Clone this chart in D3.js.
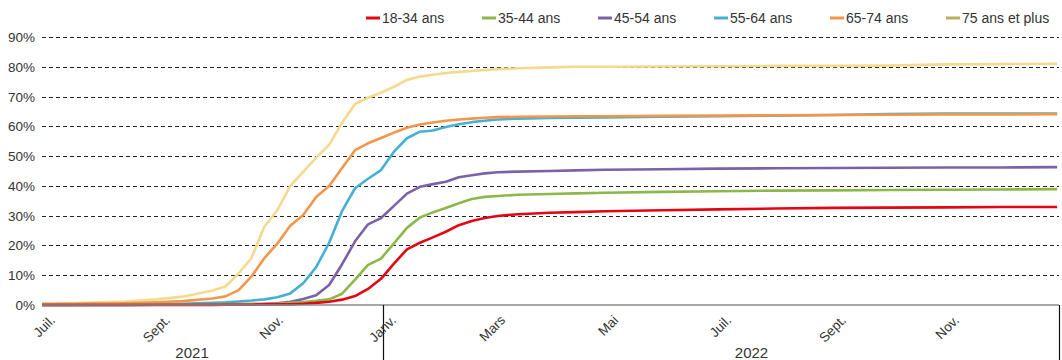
<!DOCTYPE html>
<html>
<head>
<meta charset="utf-8">
<script src="https://cdn.jsdelivr.net/npm/d3@7"></script>
<style>
  html, body { margin: 0; padding: 0; background: #fff; }
  svg { display: block; }
  .narrow { font-family: "Liberation Sans Narrow", "Arial Narrow", "Liberation Sans", Arial, sans-serif; }
  .reg { font-family: "Liberation Sans", Arial, sans-serif; }
</style>
</head>
<body>
<svg id="chart" width="1062" height="360"></svg>
<script>
// ---- Data ----
const dates = [
  "2021-07-01","2021-07-15","2021-08-01","2021-08-15","2021-09-01","2021-09-15",
  "2021-10-01","2021-10-08","2021-10-15","2021-10-22","2021-10-29",
  "2021-11-05","2021-11-12","2021-11-19","2021-11-26",
  "2021-12-03","2021-12-10","2021-12-17","2021-12-24","2021-12-31",
  "2022-01-07","2022-01-14","2022-01-21","2022-01-28",
  "2022-02-04","2022-02-11","2022-02-18","2022-02-25",
  "2022-03-04","2022-03-15","2022-04-01","2022-04-15","2022-05-01",
  "2022-06-01","2022-07-01","2022-08-01","2022-09-01","2022-10-01",
  "2022-11-01","2022-12-01","2022-12-31"
];
const categories = ["18-34 ans","35-44 ans","45-54 ans","55-64 ans","65-74 ans","75 ans et plus"];
const s18_34 = [0,0,0,0,0,0, 0.0,0.1,0.1,0.1,0.2, 0.2,0.2,0.4,0.7, 1.1,1.8,3.0,5.4,8.8,
  13.9,18.7,20.9,22.7, 24.6,26.8,28.2,29.2, 29.9,30.5,31.0,31.2,31.5, 31.8,32.1,32.4,32.6,32.7, 32.8,32.9,32.9];
const s35_44 = [0,0,0,0,0.1,0.1, 0.1,0.2,0.2,0.3,0.3, 0.4,0.7,1.0,1.4, 1.9,3.8,8.5,13.5,15.6,
  20.7,25.9,29.4,31.1, 32.6,34.2,35.6,36.3, 36.6,37.0,37.3,37.5,37.7, 38.0,38.2,38.4,38.5,38.6, 38.7,38.8,38.9];
const s45_54 = [0,0,0,0,0.1,0.1, 0.2,0.2,0.3,0.3,0.4, 0.6,1.1,2.0,3.3, 6.7,13.7,21.4,27.1,29.2,
  33.3,37.4,39.7,40.6, 41.4,42.9,43.6,44.2, 44.6,44.8,45.0,45.2,45.4, 45.6,45.8,45.9,46.0,46.1, 46.2,46.2,46.3];
const s55_64 = [0,0,0.1,0.1,0.2,0.4, 0.7,0.9,1.2,1.5,1.9, 2.6,3.9,7.3,12.7, 20.9,31.6,39.2,42.4,45.3,
  51.5,56.0,58.2,58.6, 59.8,60.7,61.4,61.9, 62.3,62.6,62.8,62.9,63.0, 63.2,63.4,63.6,63.8,64.1, 64.3,64.3,64.3];
const s65_74 = [0.3,0.4,0.5,0.6,0.9,1.3, 2.2,2.9,4.9,9.5,15.7, 20.6,26.6,30.2,36.3, 40.0,46.0,52.0,54.3,56.1,
  57.9,59.5,60.6,61.3, 61.9,62.3,62.6,62.9, 63.1,63.2,63.3,63.4,63.4, 63.5,63.6,63.7,63.8,63.9, 64.0,64.0,64.1];
const s75plus = [0.5,0.6,0.9,1.2,1.9,2.8, 4.9,6.2,10.5,15.7,26.3, 31.8,40.0,44.7,49.5, 53.8,61.2,67.5,69.6,71.3,
  73.3,75.6,76.7,77.3, 77.9,78.3,78.6,78.9, 79.2,79.5,79.8,80.0,80.0, 80.1,80.2,80.3,80.3,80.4, 80.8,80.9,81.0];
const seriesValues = [s18_34, s35_44, s45_54, s55_64, s65_74, s75plus];
const lineColors   = ["#e30613","#8cb84a","#7b62a8","#45b1d2","#f4964a","#f3da8e"];
const legendColors = ["#e30613","#8cb84a","#7b62a8","#45b1d2","#f4964a","#b9ae5e"];
const drawOrder = [5, 3, 4, 2, 1, 0];
const yTicks = [0,10,20,30,40,50,60,70,80,90];
const monthTickDates = ["2021-07-01","2021-09-01","2021-11-01","2022-01-01","2022-03-01","2022-05-01","2022-07-01","2022-09-01","2022-11-01"];
const monthLabels = ["Juil.","Sept.","Nov.","Janv.","Mars","Mai","Juil.","Sept.","Nov."];
const yearLabels = ["2021","2022"];
const yearLabelDates = ["2021-09-20","2022-07-19"];
const yearBoundaries = ["2022-01-01","2023-01-01"];
const domainDates = ["2021-07-01","2023-01-01"];

// ---- Chart ----
const parse = d3.timeParse("%Y-%m-%d");
const svg = d3.select("#chart");
const x = d3.scaleTime().domain(domainDates.map(parse)).range([42, 1059]);
const y = d3.scaleLinear().domain([0, 90]).range([305, 37]);

// gridlines
svg.append("g").selectAll("line").data(yTicks.filter(d => d > 0)).join("line")
  .attr("x1", 42).attr("x2", 1059)
  .attr("y1", d => Math.round(y(d)) + 0.5).attr("y2", d => Math.round(y(d)) + 0.5)
  .attr("stroke", "#222").attr("stroke-width", 1).attr("stroke-dasharray", "4,3");

// y labels
svg.append("g").selectAll("text").data(yTicks).join("text")
  .attr("class", "reg")
  .attr("x", 35).attr("y", d => y(d) + 5)
  .attr("text-anchor", "end").attr("font-size", 13.5).attr("fill", "#333")
  .text(d => d + "%");

// lines
const parsedDates = dates.map(parse);
const line = d3.line().x((d, i) => x(parsedDates[i])).y(d => y(d));
svg.append("g").selectAll("path").data(drawOrder).join("path")
  .attr("d", i => line(seriesValues[i]))
  .attr("fill", "none").attr("stroke", i => lineColors[i])
  .attr("stroke-width", 2.6).attr("stroke-linejoin", "round");

// baseline
svg.append("line").attr("x1", 42).attr("x2", 1059).attr("y1", y(0)).attr("y2", y(0))
  .attr("stroke", "#8a8a8a").attr("stroke-width", 1.5);

// year boundary lines
svg.append("g").selectAll("line").data(yearBoundaries).join("line")
  .attr("x1", d => Math.round(x(parse(d))) + 0.5).attr("x2", d => Math.round(x(parse(d))) + 0.5)
  .attr("y1", y(0)).attr("y2", 360)
  .attr("stroke", "#111").attr("stroke-width", 1.2);

// month labels
svg.append("g").selectAll("text").data(monthTickDates).join("text")
  .attr("class", "narrow")
  .attr("transform", d => `translate(${x(parse(d)) + 14},${321}) rotate(-45)`)
  .attr("text-anchor", "end").attr("font-size", 13.5).attr("fill", "#333")
  .text((d, i) => monthLabels[i]);

// year labels
svg.append("g").selectAll("text").data(yearLabelDates).join("text")
  .attr("class", "narrow")
  .attr("x", d => x(parse(d))).attr("y", 358)
  .attr("text-anchor", "middle").attr("font-size", 15).attr("fill", "#333")
  .text((d, i) => yearLabels[i]);

// legend
const lg = svg.append("g").selectAll("g").data(categories).join("g")
  .attr("transform", (d, i) => `translate(${366 + i * 116},18)`);
lg.append("line").attr("x1", 0).attr("x2", 14).attr("y1", 0).attr("y2", 0)
  .attr("stroke", (d, i) => legendColors[i]).attr("stroke-width", 3);
lg.append("text").attr("class", "narrow")
  .attr("x", 16).attr("y", 5).attr("font-size", 14).attr("fill", "#333")
  .text(d => d);
</script>
</body>
</html>
